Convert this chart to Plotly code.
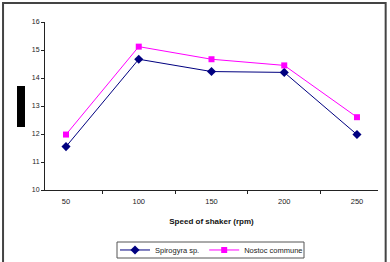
import plotly.graph_objects as go

speeds = ["50", "100", "150", "200", "250"]
spirogyra = [11.55, 14.67, 14.23, 14.2, 11.98]
nostoc = [11.98, 15.12, 14.67, 14.45, 12.6]
y_ticks = [10, 11, 12, 13, 14, 15, 16]

FONT = "Liberation Sans, Arial, sans-serif"

fig = go.Figure()
fig.add_trace(go.Scatter(
    x=speeds, y=spirogyra, name="Spirogyra sp.", mode="lines+markers",
    line=dict(color="#000080", width=1),
    marker=dict(symbol="diamond", size=7, color="#000080"),
))
fig.add_trace(go.Scatter(
    x=speeds, y=nostoc, name="Nostoc commune", mode="lines+markers",
    line=dict(color="#FF00FF", width=1),
    marker=dict(symbol="square", size=6, color="#FF00FF"),
))

fig.update_layout(
    width=390, height=262,
    margin=dict(l=45, r=12, t=22, b=72, autoexpand=False),
    paper_bgcolor="white", plot_bgcolor="white",
    font=dict(family=FONT, size=7, color="#222"),
    showlegend=True,
    legend=dict(
        orientation="h", x=0.5, xanchor="center", y=-0.357, yanchor="middle",
        bgcolor="rgba(0,0,0,0)", borderwidth=0,
        font=dict(size=7.5, color="#222"),
        itemwidth=30, tracegroupgap=0,
    ),
    xaxis=dict(
        type="category", tickson="boundaries", ticks="outside", ticklen=3,
        tickcolor="#222", showline=True, linecolor="#222", linewidth=1,
        showgrid=False, zeroline=False, tickfont=dict(size=7.5, color="#222"),
        ticklabelstandoff=4,
        title=dict(text="<b>Speed of shaker (rpm)</b>", font=dict(size=8, color="#111"), standoff=13),
    ),
    yaxis=dict(
        range=[10, 16], tickvals=y_ticks, ticks="outside", ticklen=3,
        tickcolor="#222", showline=True, linecolor="#222", linewidth=1,
        showgrid=False, zeroline=False, tickfont=dict(size=7, color="#222"),
    ),
    shapes=[
        dict(type="rect", xref="paper", yref="paper",
             x0=-0.0841, x1=-0.0601, y0=0.375, y1=0.619,
             fillcolor="black", line=dict(width=0)),
        dict(type="rect", xref="paper", yref="paper",
             x0=(117 - 45) / 333, x1=(304 - 45) / 333,
             y0=(190 - 258) / 168, y1=(190 - 242) / 168,
             fillcolor="rgba(0,0,0,0)", line=dict(color="#555", width=1)),
        dict(type="rect", xref="paper", yref="paper",
             x0=-0.126, x1=1.023, y0=-0.44, y1=1.113,
             fillcolor="rgba(0,0,0,0)", line=dict(color="#444", width=2)),
    ],
)

fig.write_html("out.html")
